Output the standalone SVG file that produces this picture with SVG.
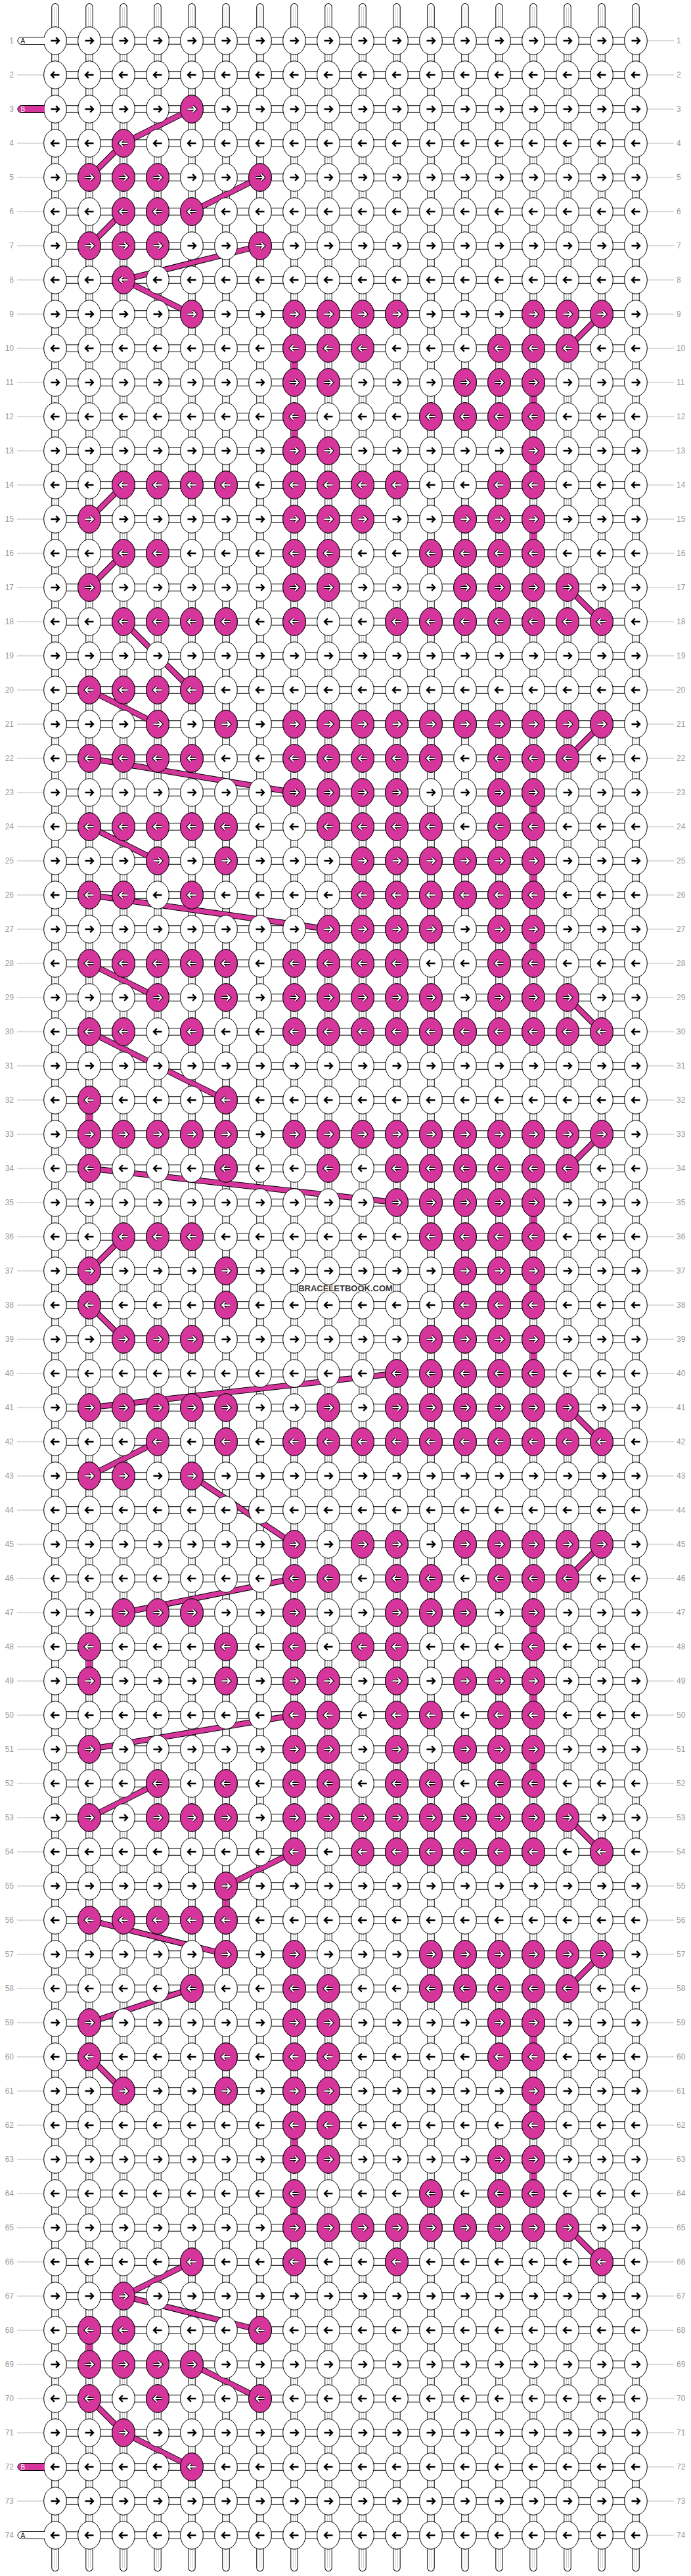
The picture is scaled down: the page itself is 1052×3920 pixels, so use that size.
<svg xmlns="http://www.w3.org/2000/svg" width="1052" height="3920" viewBox="0 0 1052 3920">
<style>
.w{fill:#fff;stroke:#000;stroke-width:1}
.pk{fill:#d6369c;stroke:#000;stroke-width:1}
.ab{fill:none;stroke:#000;stroke-width:2.4}
.ao{fill:none;stroke:#000;stroke-width:4.2}
.ai{fill:none;stroke:#fff;stroke-width:2}
.sO{fill:none;stroke:#000;stroke-width:11.4;stroke-linecap:round}
.sI{fill:none;stroke:#fff;stroke-width:9.4;stroke-linecap:round}
.sG{fill:none;stroke:#c4c4c4;stroke-width:0.8}
.hO{fill:none;stroke:#000;stroke-width:11.4}
.hI{fill:none;stroke:#fff;stroke-width:9.4}
.bO{fill:none;stroke:#000;stroke-width:9;stroke-linecap:round;stroke-linejoin:round}
.bI{fill:none;stroke:#d6369c;stroke-width:7;stroke-linecap:round;stroke-linejoin:round}
.vI{fill:none;stroke:#d6369c;stroke-width:9.4}
.gl{fill:none;stroke:#bbb;stroke-width:1}
.n{font-family:"Liberation Sans",Arial,sans-serif;font-size:12px;fill:#999}
.e{text-anchor:end}
.lb{font-family:"Liberation Sans",Arial,sans-serif;font-size:10px}
.wm{font-family:"Liberation Sans",Arial,sans-serif;font-size:13px;font-weight:bold;fill:#333;text-anchor:middle;stroke:#fff;stroke-width:2;paint-order:stroke}
</style>
<defs>
<path id="ar" d="M-6.5 0H5.5M1.2 -4.8L6 0L1.2 4.8"/>
<path id="al" d="M6.5 0H-5.5M-1.2 -4.8L-6 0L-1.2 4.8"/>
<g id="kR"><ellipse rx="17.3" ry="21.2" class="w"/><use href="#ar" class="ab"/></g>
<g id="kL"><ellipse rx="17.3" ry="21.2" class="w"/><use href="#al" class="ab"/></g>
<g id="p"><ellipse rx="17.3" ry="21.2" class="pk"/><use href="#ar" class="ao"/><use href="#ar" class="ai"/></g>
<g id="q"><ellipse rx="17.3" ry="21.2" class="pk"/><use href="#al" class="ao"/><use href="#al" class="ai"/></g>
<g id="rR"><path class="gl" d="M26 0H66M986 0H1026"/><use href="#kR" x="84"/><use href="#kR" x="136"/><use href="#kR" x="188"/><use href="#kR" x="240"/><use href="#kR" x="292"/><use href="#kR" x="344"/><use href="#kR" x="396"/><use href="#kR" x="448"/><use href="#kR" x="500"/><use href="#kR" x="552"/><use href="#kR" x="604"/><use href="#kR" x="656"/><use href="#kR" x="708"/><use href="#kR" x="760"/><use href="#kR" x="812"/><use href="#kR" x="864"/><use href="#kR" x="916"/><use href="#kR" x="968"/></g>
<g id="rL"><path class="gl" d="M26 0H66M986 0H1026"/><use href="#kL" x="84"/><use href="#kL" x="136"/><use href="#kL" x="188"/><use href="#kL" x="240"/><use href="#kL" x="292"/><use href="#kL" x="344"/><use href="#kL" x="396"/><use href="#kL" x="448"/><use href="#kL" x="500"/><use href="#kL" x="552"/><use href="#kL" x="604"/><use href="#kL" x="656"/><use href="#kL" x="708"/><use href="#kL" x="760"/><use href="#kL" x="812"/><use href="#kL" x="864"/><use href="#kL" x="916"/><use href="#kL" x="968"/></g>
<path id="vp" d="M84 10.7V3907.5M136 10.7V3907.5M188 10.7V3907.5M240 10.7V3907.5M292 10.7V3907.5M344 10.7V3907.5M396 10.7V3907.5M448 10.7V3907.5M500 10.7V3907.5M552 10.7V3907.5M604 10.7V3907.5M656 10.7V3907.5M708 10.7V3907.5M760 10.7V3907.5M812 10.7V3907.5M864 10.7V3907.5M916 10.7V3907.5M968 10.7V3907.5"/>
<path id="hp" d="M84 62H968M84 114H968M84 166H968M84 218H968M84 270H968M84 322H968M84 374H968M84 426H968M84 478H968M84 530H968M84 582H968M84 634H968M84 686H968M84 738H968M84 790H968M84 842H968M84 894H968M84 946H968M84 998H968M84 1050H968M84 1102H968M84 1154H968M84 1206H968M84 1258H968M84 1310H968M84 1362H968M84 1414H968M84 1466H968M84 1518H968M84 1570H968M84 1622H968M84 1674H968M84 1726H968M84 1778H968M84 1830H968M84 1882H968M84 1934H968M84 1986H968M84 2038H968M84 2090H968M84 2142H968M84 2194H968M84 2246H968M84 2298H968M84 2350H968M84 2402H968M84 2454H968M84 2506H968M84 2558H968M84 2610H968M84 2662H968M84 2714H968M84 2766H968M84 2818H968M84 2870H968M84 2922H968M84 2974H968M84 3026H968M84 3078H968M84 3130H968M84 3182H968M84 3234H968M84 3286H968M84 3338H968M84 3390H968M84 3442H968M84 3494H968M84 3546H968M84 3598H968M84 3650H968M84 3702H968M84 3754H968M84 3806H968M84 3858H968"/>
<path id="bp" d="M292 166L188 218L136 270M396 270L292 322M188 322L136 374M396 374L188 426L292 478M916 478L864 530M188 738L136 790M188 842L136 894M864 894L916 946M188 946L292 1050M136 1050L240 1102M916 1102L864 1154M136 1154L448 1206M136 1258L240 1310M136 1362L500 1414M136 1466L240 1518M864 1518L916 1570M136 1570L344 1674M916 1726L864 1778M136 1778L604 1830M188 1882L136 1934M136 1986L188 2038M604 2090L136 2142M864 2142L916 2194M240 2194L136 2246M292 2246L448 2350M916 2350L864 2402M448 2402L188 2454M448 2610L136 2662M240 2714L136 2766M864 2766L916 2818M448 2818L344 2870M136 2922L344 2974M916 2974L864 3026M292 3026L136 3078M136 3130L188 3182M864 3390L916 3442M292 3442L188 3494L396 3546M292 3598L396 3650M136 3650L188 3702L292 3754"/>
</defs>
<rect width="1052" height="3920" fill="#fff"/>
<g id="strands">
<use href="#vp" class="sO"/><use href="#vp" class="sI"/><use href="#vp" class="sG" transform="translate(-1.5,0)"/><use href="#vp" class="sG" transform="translate(1.5,0)"/>
<use href="#hp" class="hO"/><use href="#hp" class="hI"/>
</g>
<g id="connectors">
<use href="#bp" class="bO"/>
<use href="#bp" class="bI"/>
<path class="vI" d="M448 530V582M812 582V634M448 634V686M812 686V738M812 790V842M812 1206V1258M812 1310V1362M812 1414V1466M136 1674V1726M812 1830V1882M812 1934V1986M812 2038V2090M812 2454V2506M136 2506V2558M812 2558V2610M812 2662V2714M344 2870V2922M812 3078V3130M812 3182V3234M448 3234V3286M812 3286V3338M448 3338V3390M136 3546V3598"/>
</g>
<g id="rows">
<g id="row1" transform="translate(0,62)"><use href="#rR"/><text class="n e" x="21" y="4.3">1</text><text class="n" x="1030" y="4.3">1</text></g>
<g id="row2" transform="translate(0,114)"><use href="#rL"/><text class="n e" x="21" y="4.3">2</text><text class="n" x="1030" y="4.3">2</text></g>
<g id="row3" transform="translate(0,166)"><use href="#rR"/><use href="#p" x="292"/><text class="n e" x="21" y="4.3">3</text><text class="n" x="1030" y="4.3">3</text></g>
<g id="row4" transform="translate(0,218)"><use href="#rL"/><use href="#q" x="188"/><text class="n e" x="21" y="4.3">4</text><text class="n" x="1030" y="4.3">4</text></g>
<g id="row5" transform="translate(0,270)"><use href="#rR"/><use href="#p" x="136"/><use href="#p" x="188"/><use href="#p" x="240"/><use href="#p" x="396"/><text class="n e" x="21" y="4.3">5</text><text class="n" x="1030" y="4.3">5</text></g>
<g id="row6" transform="translate(0,322)"><use href="#rL"/><use href="#q" x="188"/><use href="#q" x="240"/><use href="#q" x="292"/><text class="n e" x="21" y="4.3">6</text><text class="n" x="1030" y="4.3">6</text></g>
<g id="row7" transform="translate(0,374)"><use href="#rR"/><use href="#p" x="136"/><use href="#p" x="188"/><use href="#p" x="240"/><use href="#p" x="396"/><text class="n e" x="21" y="4.3">7</text><text class="n" x="1030" y="4.3">7</text></g>
<g id="row8" transform="translate(0,426)"><use href="#rL"/><use href="#q" x="188"/><text class="n e" x="21" y="4.3">8</text><text class="n" x="1030" y="4.3">8</text></g>
<g id="row9" transform="translate(0,478)"><use href="#rR"/><use href="#p" x="292"/><use href="#p" x="448"/><use href="#p" x="500"/><use href="#p" x="552"/><use href="#p" x="604"/><use href="#p" x="812"/><use href="#p" x="864"/><use href="#p" x="916"/><text class="n e" x="21" y="4.3">9</text><text class="n" x="1030" y="4.3">9</text></g>
<g id="row10" transform="translate(0,530)"><use href="#rL"/><use href="#q" x="448"/><use href="#q" x="500"/><use href="#q" x="552"/><use href="#q" x="760"/><use href="#q" x="812"/><use href="#q" x="864"/><text class="n e" x="21" y="4.3">10</text><text class="n" x="1030" y="4.3">10</text></g>
<g id="row11" transform="translate(0,582)"><use href="#rR"/><use href="#p" x="448"/><use href="#p" x="500"/><use href="#p" x="708"/><use href="#p" x="760"/><use href="#p" x="812"/><text class="n e" x="21" y="4.3">11</text><text class="n" x="1030" y="4.3">11</text></g>
<g id="row12" transform="translate(0,634)"><use href="#rL"/><use href="#q" x="448"/><use href="#q" x="656"/><use href="#q" x="708"/><use href="#q" x="760"/><use href="#q" x="812"/><text class="n e" x="21" y="4.3">12</text><text class="n" x="1030" y="4.3">12</text></g>
<g id="row13" transform="translate(0,686)"><use href="#rR"/><use href="#p" x="448"/><use href="#p" x="500"/><use href="#p" x="812"/><text class="n e" x="21" y="4.3">13</text><text class="n" x="1030" y="4.3">13</text></g>
<g id="row14" transform="translate(0,738)"><use href="#rL"/><use href="#q" x="188"/><use href="#q" x="240"/><use href="#q" x="292"/><use href="#q" x="344"/><use href="#q" x="448"/><use href="#q" x="500"/><use href="#q" x="552"/><use href="#q" x="604"/><use href="#q" x="760"/><use href="#q" x="812"/><text class="n e" x="21" y="4.3">14</text><text class="n" x="1030" y="4.3">14</text></g>
<g id="row15" transform="translate(0,790)"><use href="#rR"/><use href="#p" x="136"/><use href="#p" x="448"/><use href="#p" x="500"/><use href="#p" x="552"/><use href="#p" x="708"/><use href="#p" x="760"/><use href="#p" x="812"/><text class="n e" x="21" y="4.3">15</text><text class="n" x="1030" y="4.3">15</text></g>
<g id="row16" transform="translate(0,842)"><use href="#rL"/><use href="#q" x="188"/><use href="#q" x="240"/><use href="#q" x="448"/><use href="#q" x="500"/><use href="#q" x="656"/><use href="#q" x="708"/><use href="#q" x="760"/><use href="#q" x="812"/><text class="n e" x="21" y="4.3">16</text><text class="n" x="1030" y="4.3">16</text></g>
<g id="row17" transform="translate(0,894)"><use href="#rR"/><use href="#p" x="136"/><use href="#p" x="448"/><use href="#p" x="500"/><use href="#p" x="708"/><use href="#p" x="760"/><use href="#p" x="812"/><use href="#p" x="864"/><text class="n e" x="21" y="4.3">17</text><text class="n" x="1030" y="4.3">17</text></g>
<g id="row18" transform="translate(0,946)"><use href="#rL"/><use href="#q" x="188"/><use href="#q" x="240"/><use href="#q" x="292"/><use href="#q" x="344"/><use href="#q" x="448"/><use href="#q" x="604"/><use href="#q" x="656"/><use href="#q" x="708"/><use href="#q" x="760"/><use href="#q" x="812"/><use href="#q" x="864"/><use href="#q" x="916"/><text class="n e" x="21" y="4.3">18</text><text class="n" x="1030" y="4.3">18</text></g>
<g id="row19" transform="translate(0,998)"><use href="#rR"/><text class="n e" x="21" y="4.3">19</text><text class="n" x="1030" y="4.3">19</text></g>
<g id="row20" transform="translate(0,1050)"><use href="#rL"/><use href="#q" x="136"/><use href="#q" x="188"/><use href="#q" x="240"/><use href="#q" x="292"/><text class="n e" x="21" y="4.3">20</text><text class="n" x="1030" y="4.3">20</text></g>
<g id="row21" transform="translate(0,1102)"><use href="#rR"/><use href="#p" x="240"/><use href="#p" x="344"/><use href="#p" x="448"/><use href="#p" x="500"/><use href="#p" x="552"/><use href="#p" x="604"/><use href="#p" x="656"/><use href="#p" x="708"/><use href="#p" x="760"/><use href="#p" x="812"/><use href="#p" x="864"/><use href="#p" x="916"/><text class="n e" x="21" y="4.3">21</text><text class="n" x="1030" y="4.3">21</text></g>
<g id="row22" transform="translate(0,1154)"><use href="#rL"/><use href="#q" x="136"/><use href="#q" x="188"/><use href="#q" x="240"/><use href="#q" x="292"/><use href="#q" x="448"/><use href="#q" x="500"/><use href="#q" x="552"/><use href="#q" x="604"/><use href="#q" x="656"/><use href="#q" x="760"/><use href="#q" x="812"/><use href="#q" x="864"/><text class="n e" x="21" y="4.3">22</text><text class="n" x="1030" y="4.3">22</text></g>
<g id="row23" transform="translate(0,1206)"><use href="#rR"/><use href="#p" x="448"/><use href="#p" x="500"/><use href="#p" x="552"/><use href="#p" x="604"/><use href="#p" x="760"/><use href="#p" x="812"/><text class="n e" x="21" y="4.3">23</text><text class="n" x="1030" y="4.3">23</text></g>
<g id="row24" transform="translate(0,1258)"><use href="#rL"/><use href="#q" x="136"/><use href="#q" x="188"/><use href="#q" x="240"/><use href="#q" x="292"/><use href="#q" x="344"/><use href="#q" x="500"/><use href="#q" x="552"/><use href="#q" x="604"/><use href="#q" x="656"/><use href="#q" x="760"/><use href="#q" x="812"/><text class="n e" x="21" y="4.3">24</text><text class="n" x="1030" y="4.3">24</text></g>
<g id="row25" transform="translate(0,1310)"><use href="#rR"/><use href="#p" x="240"/><use href="#p" x="344"/><use href="#p" x="552"/><use href="#p" x="604"/><use href="#p" x="656"/><use href="#p" x="708"/><use href="#p" x="760"/><use href="#p" x="812"/><text class="n e" x="21" y="4.3">25</text><text class="n" x="1030" y="4.3">25</text></g>
<g id="row26" transform="translate(0,1362)"><use href="#rL"/><use href="#q" x="136"/><use href="#q" x="188"/><use href="#q" x="292"/><use href="#q" x="552"/><use href="#q" x="604"/><use href="#q" x="656"/><use href="#q" x="708"/><use href="#q" x="760"/><use href="#q" x="812"/><text class="n e" x="21" y="4.3">26</text><text class="n" x="1030" y="4.3">26</text></g>
<g id="row27" transform="translate(0,1414)"><use href="#rR"/><use href="#p" x="500"/><use href="#p" x="552"/><use href="#p" x="604"/><use href="#p" x="656"/><use href="#p" x="760"/><use href="#p" x="812"/><text class="n e" x="21" y="4.3">27</text><text class="n" x="1030" y="4.3">27</text></g>
<g id="row28" transform="translate(0,1466)"><use href="#rL"/><use href="#q" x="136"/><use href="#q" x="188"/><use href="#q" x="240"/><use href="#q" x="292"/><use href="#q" x="344"/><use href="#q" x="448"/><use href="#q" x="500"/><use href="#q" x="552"/><use href="#q" x="604"/><use href="#q" x="760"/><use href="#q" x="812"/><text class="n e" x="21" y="4.3">28</text><text class="n" x="1030" y="4.3">28</text></g>
<g id="row29" transform="translate(0,1518)"><use href="#rR"/><use href="#p" x="240"/><use href="#p" x="344"/><use href="#p" x="448"/><use href="#p" x="500"/><use href="#p" x="552"/><use href="#p" x="604"/><use href="#p" x="656"/><use href="#p" x="760"/><use href="#p" x="812"/><use href="#p" x="864"/><text class="n e" x="21" y="4.3">29</text><text class="n" x="1030" y="4.3">29</text></g>
<g id="row30" transform="translate(0,1570)"><use href="#rL"/><use href="#q" x="136"/><use href="#q" x="188"/><use href="#q" x="292"/><use href="#q" x="448"/><use href="#q" x="500"/><use href="#q" x="552"/><use href="#q" x="604"/><use href="#q" x="656"/><use href="#q" x="708"/><use href="#q" x="760"/><use href="#q" x="812"/><use href="#q" x="864"/><use href="#q" x="916"/><text class="n e" x="21" y="4.3">30</text><text class="n" x="1030" y="4.3">30</text></g>
<g id="row31" transform="translate(0,1622)"><use href="#rR"/><text class="n e" x="21" y="4.3">31</text><text class="n" x="1030" y="4.3">31</text></g>
<g id="row32" transform="translate(0,1674)"><use href="#rL"/><use href="#q" x="136"/><use href="#q" x="344"/><text class="n e" x="21" y="4.3">32</text><text class="n" x="1030" y="4.3">32</text></g>
<g id="row33" transform="translate(0,1726)"><use href="#rR"/><use href="#p" x="136"/><use href="#p" x="188"/><use href="#p" x="240"/><use href="#p" x="292"/><use href="#p" x="344"/><use href="#p" x="448"/><use href="#p" x="500"/><use href="#p" x="552"/><use href="#p" x="604"/><use href="#p" x="656"/><use href="#p" x="708"/><use href="#p" x="760"/><use href="#p" x="812"/><use href="#p" x="864"/><use href="#p" x="916"/><text class="n e" x="21" y="4.3">33</text><text class="n" x="1030" y="4.3">33</text></g>
<g id="row34" transform="translate(0,1778)"><use href="#rL"/><use href="#q" x="136"/><use href="#q" x="344"/><use href="#q" x="500"/><use href="#q" x="604"/><use href="#q" x="656"/><use href="#q" x="708"/><use href="#q" x="760"/><use href="#q" x="812"/><use href="#q" x="864"/><text class="n e" x="21" y="4.3">34</text><text class="n" x="1030" y="4.3">34</text></g>
<g id="row35" transform="translate(0,1830)"><use href="#rR"/><use href="#p" x="604"/><use href="#p" x="656"/><use href="#p" x="708"/><use href="#p" x="760"/><use href="#p" x="812"/><text class="n e" x="21" y="4.3">35</text><text class="n" x="1030" y="4.3">35</text></g>
<g id="row36" transform="translate(0,1882)"><use href="#rL"/><use href="#q" x="188"/><use href="#q" x="240"/><use href="#q" x="292"/><use href="#q" x="656"/><use href="#q" x="708"/><use href="#q" x="760"/><use href="#q" x="812"/><text class="n e" x="21" y="4.3">36</text><text class="n" x="1030" y="4.3">36</text></g>
<g id="row37" transform="translate(0,1934)"><use href="#rR"/><use href="#p" x="136"/><use href="#p" x="344"/><use href="#p" x="708"/><use href="#p" x="760"/><use href="#p" x="812"/><text class="n e" x="21" y="4.3">37</text><text class="n" x="1030" y="4.3">37</text></g>
<g id="row38" transform="translate(0,1986)"><use href="#rL"/><use href="#q" x="136"/><use href="#q" x="344"/><use href="#q" x="708"/><use href="#q" x="760"/><use href="#q" x="812"/><text class="n e" x="21" y="4.3">38</text><text class="n" x="1030" y="4.3">38</text></g>
<g id="row39" transform="translate(0,2038)"><use href="#rR"/><use href="#p" x="188"/><use href="#p" x="240"/><use href="#p" x="292"/><use href="#p" x="656"/><use href="#p" x="708"/><use href="#p" x="760"/><use href="#p" x="812"/><text class="n e" x="21" y="4.3">39</text><text class="n" x="1030" y="4.3">39</text></g>
<g id="row40" transform="translate(0,2090)"><use href="#rL"/><use href="#q" x="604"/><use href="#q" x="656"/><use href="#q" x="708"/><use href="#q" x="760"/><use href="#q" x="812"/><text class="n e" x="21" y="4.3">40</text><text class="n" x="1030" y="4.3">40</text></g>
<g id="row41" transform="translate(0,2142)"><use href="#rR"/><use href="#p" x="136"/><use href="#p" x="188"/><use href="#p" x="240"/><use href="#p" x="292"/><use href="#p" x="344"/><use href="#p" x="500"/><use href="#p" x="604"/><use href="#p" x="656"/><use href="#p" x="708"/><use href="#p" x="760"/><use href="#p" x="812"/><use href="#p" x="864"/><text class="n e" x="21" y="4.3">41</text><text class="n" x="1030" y="4.3">41</text></g>
<g id="row42" transform="translate(0,2194)"><use href="#rL"/><use href="#q" x="240"/><use href="#q" x="344"/><use href="#q" x="448"/><use href="#q" x="500"/><use href="#q" x="552"/><use href="#q" x="604"/><use href="#q" x="656"/><use href="#q" x="708"/><use href="#q" x="760"/><use href="#q" x="812"/><use href="#q" x="864"/><use href="#q" x="916"/><text class="n e" x="21" y="4.3">42</text><text class="n" x="1030" y="4.3">42</text></g>
<g id="row43" transform="translate(0,2246)"><use href="#rR"/><use href="#p" x="136"/><use href="#p" x="188"/><use href="#p" x="292"/><text class="n e" x="21" y="4.3">43</text><text class="n" x="1030" y="4.3">43</text></g>
<g id="row44" transform="translate(0,2298)"><use href="#rL"/><text class="n e" x="21" y="4.3">44</text><text class="n" x="1030" y="4.3">44</text></g>
<g id="row45" transform="translate(0,2350)"><use href="#rR"/><use href="#p" x="448"/><use href="#p" x="552"/><use href="#p" x="604"/><use href="#p" x="708"/><use href="#p" x="760"/><use href="#p" x="812"/><use href="#p" x="864"/><use href="#p" x="916"/><text class="n e" x="21" y="4.3">45</text><text class="n" x="1030" y="4.3">45</text></g>
<g id="row46" transform="translate(0,2402)"><use href="#rL"/><use href="#q" x="448"/><use href="#q" x="500"/><use href="#q" x="604"/><use href="#q" x="656"/><use href="#q" x="760"/><use href="#q" x="812"/><use href="#q" x="864"/><text class="n e" x="21" y="4.3">46</text><text class="n" x="1030" y="4.3">46</text></g>
<g id="row47" transform="translate(0,2454)"><use href="#rR"/><use href="#p" x="188"/><use href="#p" x="240"/><use href="#p" x="292"/><use href="#p" x="448"/><use href="#p" x="604"/><use href="#p" x="656"/><use href="#p" x="708"/><use href="#p" x="812"/><text class="n e" x="21" y="4.3">47</text><text class="n" x="1030" y="4.3">47</text></g>
<g id="row48" transform="translate(0,2506)"><use href="#rL"/><use href="#q" x="136"/><use href="#q" x="344"/><use href="#q" x="448"/><use href="#q" x="552"/><use href="#q" x="604"/><use href="#q" x="812"/><text class="n e" x="21" y="4.3">48</text><text class="n" x="1030" y="4.3">48</text></g>
<g id="row49" transform="translate(0,2558)"><use href="#rR"/><use href="#p" x="136"/><use href="#p" x="344"/><use href="#p" x="448"/><use href="#p" x="500"/><use href="#p" x="604"/><use href="#p" x="708"/><use href="#p" x="760"/><use href="#p" x="812"/><text class="n e" x="21" y="4.3">49</text><text class="n" x="1030" y="4.3">49</text></g>
<g id="row50" transform="translate(0,2610)"><use href="#rL"/><use href="#q" x="448"/><use href="#q" x="500"/><use href="#q" x="604"/><use href="#q" x="656"/><use href="#q" x="760"/><use href="#q" x="812"/><text class="n e" x="21" y="4.3">50</text><text class="n" x="1030" y="4.3">50</text></g>
<g id="row51" transform="translate(0,2662)"><use href="#rR"/><use href="#p" x="136"/><use href="#p" x="448"/><use href="#p" x="500"/><use href="#p" x="604"/><use href="#p" x="708"/><use href="#p" x="760"/><use href="#p" x="812"/><text class="n e" x="21" y="4.3">51</text><text class="n" x="1030" y="4.3">51</text></g>
<g id="row52" transform="translate(0,2714)"><use href="#rL"/><use href="#q" x="240"/><use href="#q" x="344"/><use href="#q" x="448"/><use href="#q" x="500"/><use href="#q" x="604"/><use href="#q" x="656"/><use href="#q" x="760"/><use href="#q" x="812"/><text class="n e" x="21" y="4.3">52</text><text class="n" x="1030" y="4.3">52</text></g>
<g id="row53" transform="translate(0,2766)"><use href="#rR"/><use href="#p" x="136"/><use href="#p" x="240"/><use href="#p" x="292"/><use href="#p" x="344"/><use href="#p" x="448"/><use href="#p" x="500"/><use href="#p" x="552"/><use href="#p" x="604"/><use href="#p" x="656"/><use href="#p" x="708"/><use href="#p" x="760"/><use href="#p" x="812"/><use href="#p" x="864"/><text class="n e" x="21" y="4.3">53</text><text class="n" x="1030" y="4.3">53</text></g>
<g id="row54" transform="translate(0,2818)"><use href="#rL"/><use href="#q" x="448"/><use href="#q" x="552"/><use href="#q" x="604"/><use href="#q" x="656"/><use href="#q" x="708"/><use href="#q" x="760"/><use href="#q" x="812"/><use href="#q" x="916"/><text class="n e" x="21" y="4.3">54</text><text class="n" x="1030" y="4.3">54</text></g>
<g id="row55" transform="translate(0,2870)"><use href="#rR"/><use href="#p" x="344"/><text class="n e" x="21" y="4.3">55</text><text class="n" x="1030" y="4.3">55</text></g>
<g id="row56" transform="translate(0,2922)"><use href="#rL"/><use href="#q" x="136"/><use href="#q" x="188"/><use href="#q" x="240"/><use href="#q" x="292"/><use href="#q" x="344"/><text class="n e" x="21" y="4.3">56</text><text class="n" x="1030" y="4.3">56</text></g>
<g id="row57" transform="translate(0,2974)"><use href="#rR"/><use href="#p" x="344"/><use href="#p" x="448"/><use href="#p" x="656"/><use href="#p" x="708"/><use href="#p" x="760"/><use href="#p" x="812"/><use href="#p" x="864"/><use href="#p" x="916"/><text class="n e" x="21" y="4.3">57</text><text class="n" x="1030" y="4.3">57</text></g>
<g id="row58" transform="translate(0,3026)"><use href="#rL"/><use href="#q" x="292"/><use href="#q" x="448"/><use href="#q" x="500"/><use href="#q" x="656"/><use href="#q" x="708"/><use href="#q" x="760"/><use href="#q" x="812"/><use href="#q" x="864"/><text class="n e" x="21" y="4.3">58</text><text class="n" x="1030" y="4.3">58</text></g>
<g id="row59" transform="translate(0,3078)"><use href="#rR"/><use href="#p" x="136"/><use href="#p" x="448"/><use href="#p" x="500"/><use href="#p" x="760"/><use href="#p" x="812"/><text class="n e" x="21" y="4.3">59</text><text class="n" x="1030" y="4.3">59</text></g>
<g id="row60" transform="translate(0,3130)"><use href="#rL"/><use href="#q" x="136"/><use href="#q" x="344"/><use href="#q" x="448"/><use href="#q" x="500"/><use href="#q" x="760"/><use href="#q" x="812"/><text class="n e" x="21" y="4.3">60</text><text class="n" x="1030" y="4.3">60</text></g>
<g id="row61" transform="translate(0,3182)"><use href="#rR"/><use href="#p" x="188"/><use href="#p" x="344"/><use href="#p" x="448"/><use href="#p" x="500"/><use href="#p" x="812"/><text class="n e" x="21" y="4.3">61</text><text class="n" x="1030" y="4.3">61</text></g>
<g id="row62" transform="translate(0,3234)"><use href="#rL"/><use href="#q" x="448"/><use href="#q" x="500"/><use href="#q" x="812"/><text class="n e" x="21" y="4.3">62</text><text class="n" x="1030" y="4.3">62</text></g>
<g id="row63" transform="translate(0,3286)"><use href="#rR"/><use href="#p" x="448"/><use href="#p" x="500"/><use href="#p" x="760"/><use href="#p" x="812"/><text class="n e" x="21" y="4.3">63</text><text class="n" x="1030" y="4.3">63</text></g>
<g id="row64" transform="translate(0,3338)"><use href="#rL"/><use href="#q" x="448"/><use href="#q" x="656"/><use href="#q" x="760"/><use href="#q" x="812"/><text class="n e" x="21" y="4.3">64</text><text class="n" x="1030" y="4.3">64</text></g>
<g id="row65" transform="translate(0,3390)"><use href="#rR"/><use href="#p" x="448"/><use href="#p" x="500"/><use href="#p" x="552"/><use href="#p" x="604"/><use href="#p" x="656"/><use href="#p" x="708"/><use href="#p" x="760"/><use href="#p" x="812"/><use href="#p" x="864"/><text class="n e" x="21" y="4.3">65</text><text class="n" x="1030" y="4.3">65</text></g>
<g id="row66" transform="translate(0,3442)"><use href="#rL"/><use href="#q" x="292"/><use href="#q" x="448"/><use href="#q" x="604"/><use href="#q" x="916"/><text class="n e" x="21" y="4.3">66</text><text class="n" x="1030" y="4.3">66</text></g>
<g id="row67" transform="translate(0,3494)"><use href="#rR"/><use href="#p" x="188"/><text class="n e" x="21" y="4.3">67</text><text class="n" x="1030" y="4.3">67</text></g>
<g id="row68" transform="translate(0,3546)"><use href="#rL"/><use href="#q" x="136"/><use href="#q" x="188"/><use href="#q" x="396"/><text class="n e" x="21" y="4.3">68</text><text class="n" x="1030" y="4.3">68</text></g>
<g id="row69" transform="translate(0,3598)"><use href="#rR"/><use href="#p" x="136"/><use href="#p" x="188"/><use href="#p" x="240"/><use href="#p" x="292"/><text class="n e" x="21" y="4.3">69</text><text class="n" x="1030" y="4.3">69</text></g>
<g id="row70" transform="translate(0,3650)"><use href="#rL"/><use href="#q" x="136"/><use href="#q" x="240"/><use href="#q" x="396"/><text class="n e" x="21" y="4.3">70</text><text class="n" x="1030" y="4.3">70</text></g>
<g id="row71" transform="translate(0,3702)"><use href="#rR"/><use href="#p" x="188"/><text class="n e" x="21" y="4.3">71</text><text class="n" x="1030" y="4.3">71</text></g>
<g id="row72" transform="translate(0,3754)"><use href="#rL"/><use href="#q" x="292"/><text class="n e" x="21" y="4.3">72</text><text class="n" x="1030" y="4.3">72</text></g>
<g id="row73" transform="translate(0,3806)"><use href="#rR"/><text class="n e" x="21" y="4.3">73</text><text class="n" x="1030" y="4.3">73</text></g>
<g id="row74" transform="translate(0,3858)"><use href="#rL"/><text class="n e" x="21" y="4.3">74</text><text class="n" x="1030" y="4.3">74</text></g>
</g>
<g id="threads">
<g id="threadA1"><path class="w" d="M68 56.5H32.5A5.5 5.5 0 0 0 32.5 67.5H68"/><text class="lb" x="31.5" y="65.6">A</text></g>
<g id="threadB1"><path class="pk" d="M68 160.5H32.5A5.5 5.5 0 0 0 32.5 171.5H68"/><text class="lb" x="31.5" y="169.6" fill="#fff">B</text></g>
<g id="threadB2"><path class="pk" d="M68 3748.5H32.5A5.5 5.5 0 0 0 32.5 3759.5H68"/><text class="lb" x="31.5" y="3757.6" fill="#fff">B</text></g>
<g id="threadA2"><path class="w" d="M68 3852.5H32.5A5.5 5.5 0 0 0 32.5 3863.5H68"/><text class="lb" x="31.5" y="3861.6">A</text></g>
</g>
<text class="wm" x="526" y="1965">BRACELETBOOK.COM</text>
</svg>
